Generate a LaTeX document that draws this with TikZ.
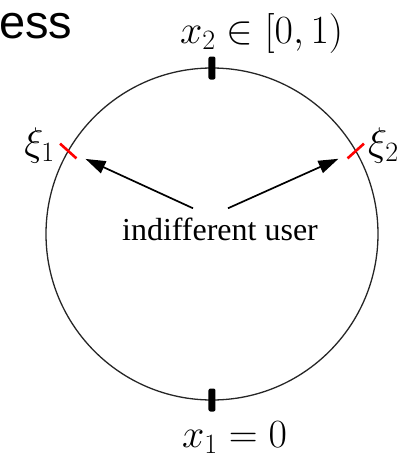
\RequirePackage{fix-cm}
\documentclass[tikz,border=0pt]{standalone}
\usepackage{fontspec}
\newfontfamily\userfont{Liberation Serif}
\newfontfamily\headfont{Liberation Sans}
\usetikzlibrary{arrows.meta,positioning,calc}

\begin{document}
\begin{tikzpicture}[
    x=1pt, y=1pt,
    ring/.style={
        draw=black!85,
        line width=1.3pt
    },
    blacktick/.style={
        rectangle,
        fill=black,
        inner sep=0pt,
        minimum width=7pt,
        minimum height=23pt,
        rounded corners=2pt
    },
    redtick/.style={
        rectangle,
        fill=red,
        inner sep=0pt,
        minimum width=22pt,
        minimum height=2.6pt
    },
    mathlabel/.style={
        inner sep=0pt,
        font=\fontsize{40}{48}\selectfont
    },
    line/.style={
        draw,
        line width=1.7pt,
        -{Triangle[length=20pt,width=13pt]},
        shorten >=19pt
    }
]
\useasboundingbox (-212,-225) rectangle (193,234);

% Circle
\draw [ring] (0,0) circle (166);

% Nodes
\node [inner sep=0pt, anchor=base west, font=\headfont\fontsize{47}{52}\selectfont] (head) at (-213,196) {ess};

\node [blacktick] (xtwo) at (90:166) {};
\node [blacktick] (xone) at (270:166) {};
\node [redtick, rotate=138] (xione) at (150:166) {};
\node [redtick, rotate=42] (xitwo) at (30:166) {};

\node [mathlabel, anchor=base west] (xtwolabel) at (-32,191) {$x_2\in[0,1)$};
\node [mathlabel, anchor=base west] (xonelabel) at (-30,-213) {$x_1=0$};
\node [mathlabel, anchor=base east] (xionelabel) at (-157,79) {$\xi_1$};
\node [mathlabel, anchor=base west] (xitwolabel) at (156,79) {$\xi_2$};

\node [inner sep=0pt, anchor=base, font=\userfont\fontsize{32}{36}\selectfont] (user) at (8,-6) {indifferent user};

% Paths
\coordinate (fromleft) at ($(user.north)+(-27,9)$);
\coordinate (fromright) at ($(user.north)+(8,9)$);
\path [line] (fromleft) -- (xione.center);
\path [line] (fromright) -- (xitwo.center);

\end{tikzpicture}
\end{document}
